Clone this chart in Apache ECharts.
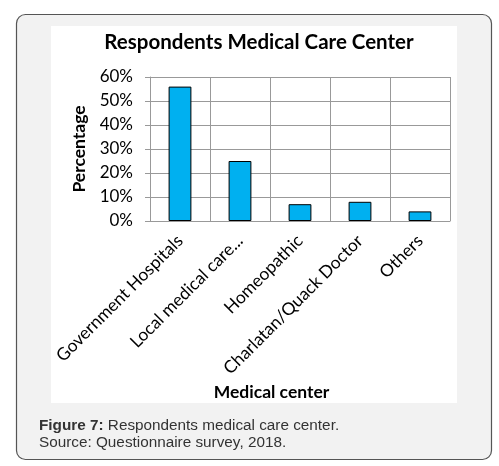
<!DOCTYPE html>
<html>
<head>
<meta charset="utf-8">
<script src="https://cdn.jsdelivr.net/npm/echarts@6/dist/echarts.min.js"></script>
<style>
html,body{margin:0;padding:0;background:#ffffff;}
#main{width:499px;height:466px;}
</style>
</head>
<body>
<div id="main"></div>
<script>
const categories = ['Government Hospitals', 'Local medical care...', 'Homeopathic', 'Charlatan/Quack Doctor', 'Others'];
const percentages = [56, 25, 7, 8, 4];
const yTicks = [0, 10, 20, 30, 40, 50, 60];

const chart = echarts.init(document.getElementById('main'), null, {renderer: 'canvas'});
const FONT = 'Lato, Carlito, Calibri, sans-serif';
chart.setOption({
  animation: false,
  backgroundColor: '#ffffff',
  graphic: [
    {type: 'rect', z: -10, shape: {x: 16.5, y: 14.5, width: 475, height: 445, r: 9},
     style: {fill: '#f2f2f2', stroke: '#555555', lineWidth: 1.2}},
    {type: 'rect', z: -9, shape: {x: 51, y: 26, width: 406, height: 377},
     style: {fill: '#ffffff'}},
    {type: 'text', left: 39, top: 418, z: 10,
     style: {text: '{b|Figure 7:} Respondents medical care center.', fill: '#333333',
       font: '15.3px "Liberation Sans", Arial, sans-serif',
       rich: {b: {fontWeight: 'bold', fontSize: 15.3, fontFamily: '"Liberation Sans", Arial, sans-serif', fill: '#333333'}}}},
    {type: 'text', left: 39, top: 435, z: 10,
     style: {text: 'Source: Questionnaire survey, 2018.', fill: '#333333',
       font: '15.3px "Liberation Sans", Arial, sans-serif'}}
  ],
  title: {
    text: 'Respondents Medical Care Center',
    left: 254, top: 27, textAlign: 'center',
    textStyle: {fontFamily: FONT, fontWeight: 'bold', fontSize: 20.5, color: '#000000'}
  },
  grid: {left: 150, right: 49, top: 77, bottom: 245, containLabel: false},
  xAxis: {
    type: 'category',
    data: categories,
    name: 'Medical center',
    nameLocation: 'middle',
    nameGap: 162,
    nameTextStyle: {fontFamily: FONT, fontWeight: 'bold', fontSize: 17.5, color: '#000000', padding: [0, 57, 0, 0]},
    axisLine: {show: true, lineStyle: {color: '#999999', width: 1}},
    axisTick: {show: false},
    splitLine: {show: true, lineStyle: {color: '#999999', width: 1}},
    axisLabel: {rotate: 45, margin: 17, fontFamily: FONT, fontSize: 17.4, color: '#000000', interval: 0}
  },
  yAxis: {
    type: 'value',
    min: 0, max: 60, interval: 10,
    name: 'Percentage',
    nameLocation: 'middle',
    nameRotate: 90,
    nameGap: 56,
    nameTextStyle: {fontFamily: FONT, fontWeight: 'bold', fontSize: 17.5, color: '#000000'},
    axisLine: {show: true, lineStyle: {color: '#999999', width: 1}},
    axisTick: {show: true, length: 5, lineStyle: {color: '#999999'}},
    splitLine: {show: true, lineStyle: {color: '#999999', width: 1}},
    axisLabel: {margin: 17, fontFamily: FONT, fontSize: 17, color: '#000000',
      formatter: function (v) { return yTicks.indexOf(v) >= 0 ? v + '%' : ''; }}
  },
  series: [{
    type: 'bar',
    data: percentages,
    barWidth: '38%',
    itemStyle: {color: '#00b0f0', borderColor: '#000000', borderWidth: 1}
  }]
});
</script>
</body>
</html>
